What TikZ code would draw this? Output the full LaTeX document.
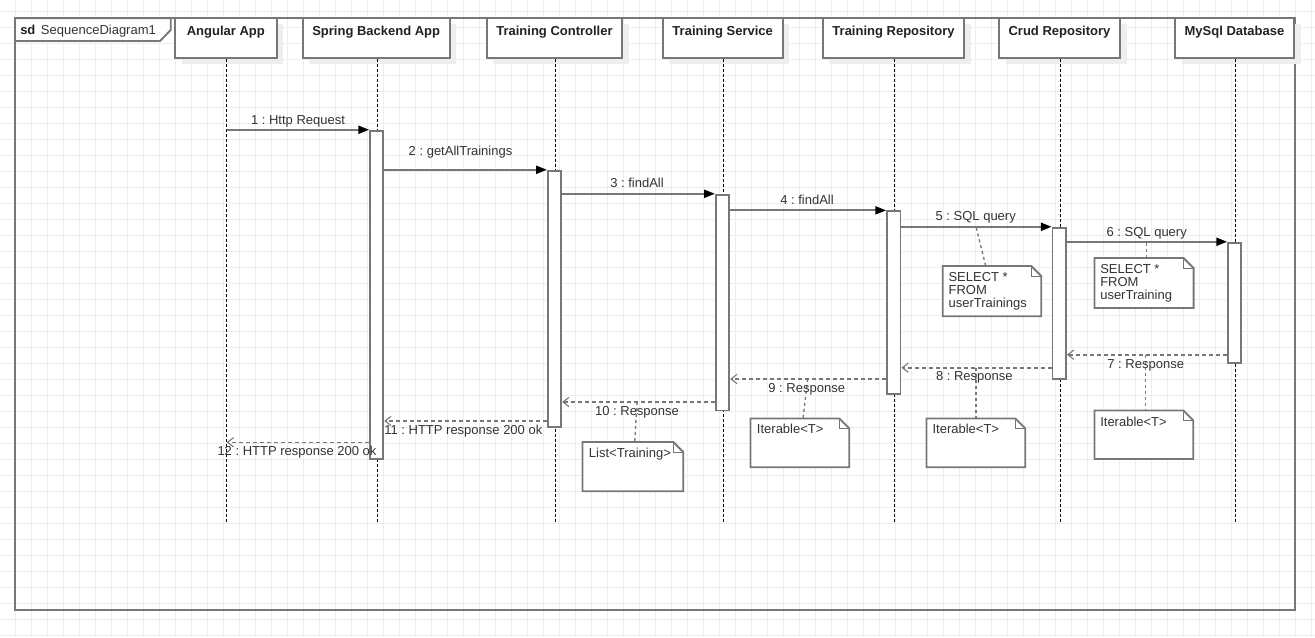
\documentclass[tikz,border=0pt]{standalone}
\usepackage{fontspec}
\setmainfont{Liberation Sans}
\usetikzlibrary{arrows.meta,calc,fit,shadows}
\definecolor{ln}{HTML}{777777}
\definecolor{gridc}{HTML}{EDEDED}
\definecolor{shd}{HTML}{EEEEEE}
\definecolor{txt}{HTML}{333333}
\definecolor{htxt}{HTML}{222222}
\frenchspacing
\newcommand\lbf{\fontsize{9.75}{11.7}\selectfont\frenchspacing}
\newcommand\drawnote[1]{%
  \draw[notel] (#1.north west) -- ($(#1.north east)+(-10,0)$) -- ($(#1.north east)+(0,10)$) -- (#1.south east) -- (#1.south west) -- cycle;
  \draw[foldl] ($(#1.north east)+(-10,0)$) -- ($(#1.north east)+(-10,10)$) -- ($(#1.north east)+(0,10)$);}
\begin{document}
\begin{tikzpicture}[x=0.75pt,y=-0.75pt,
  gridl/.style={draw=gridc,line width=0.75pt},
  frm/.style={draw=ln,line width=1.4pt},
  hdr/.style={draw=ln,line width=1.4pt,fill=white,inner sep=0pt,general shadow={fill=shd,shadow xshift=5pt,shadow yshift=-4.5pt}},
  hlbl/.style={font=\lbf\bfseries,text=htxt,anchor=base,inner sep=0pt},
  life/.style={draw=black,line width=0.75pt,dash pattern=on 2.25pt off 1.5pt},
  bar/.style={draw=ln,line width=1.4pt,fill=white,inner sep=0pt},
  msg/.style={draw=ln,line width=1.4pt,-{Triangle[length=8pt,width=6pt,black]}},
  ret/.style={draw=ln,line width=1.2pt,dash pattern=on 3pt off 2.25pt,-{Straight Barb[length=4.5pt,width=7pt,line width=0.8pt]}},
  lbl/.style={font=\lbf,text=txt,anchor=base,inner sep=0pt},
  ntxt/.style={font=\lbf,text=txt,anchor=base west,inner sep=0pt},
  nbox/.style={inner sep=0pt},
  notel/.style={draw=ln,line width=1.4pt,fill=white},
  foldl/.style={draw=ln,line width=0.8pt},
  conn/.style={draw=ln,line width=1pt,dash pattern=on 2.25pt off 2.25pt}]
\useasboundingbox (0,0) rectangle (1315,637);
\fill[white] (0,0) rectangle (1315,637);
% grid
\foreach \i in {1,...,82} \draw[gridl] ({16*\i-0.5},0) -- ({16*\i-0.5},637);
\foreach \j in {0,...,39} \draw[gridl] (0,{16*\j+11}) -- (1315,{16*\j+11});
% frame
\draw[frm] (15,18.3) rectangle (1295,610);
\draw[frm,fill=white] (15,18.3) -- (170.7,18.3) -- (170.7,30) -- (160,41) -- (15,41) -- cycle;
\node[font=\lbf\bfseries,text=htxt,anchor=base west,inner sep=0pt] (sd) at (20,34.3) {sd};
\node[font=\lbf,text=txt,anchor=base west,inner sep=0pt] (sdname) at (40.7,34.3) {SequenceDiagram1};
% headers
\node[hdr,fit={(175,18.3) (276.7,57.7)}] (hA) {};
\node[hdr,fit={(302.7,18.3) (449.7,57.7)}] (hS) {};
\node[hdr,fit={(486.7,18.3) (622.3,57.7)}] (hC) {};
\node[hdr,fit={(662.7,18.3) (782.7,57.7)}] (hV) {};
\node[hdr,fit={(822.7,18.3) (964.3,57.7)}] (hR) {};
\node[hdr,fit={(999,18.3) (1120,57.7)}] (hU) {};
\node[hdr,fit={(1175,18.3) (1294,57.7)}] (hM) {};
\node[hlbl] (tA) at (hA.north |- 0,35.2) {Angular App};
\node[hlbl] (tS) at (hS.north |- 0,35.2) {Spring Backend App};
\node[hlbl] (tC) at (hC.north |- 0,35.2) {Training Controller};
\node[hlbl] (tV) at (hV.north |- 0,35.2) {Training Service};
\node[hlbl] (tR) at (hR.north |- 0,35.2) {Training Repository};
\node[hlbl] (tU) at (hU.north |- 0,35.2) {Crud Repository};
\node[hlbl] (tM) at (hM.north |- 0,35.2) {MySql Database};
% lifelines
\coordinate (lA) at (226.7,522);
\coordinate (lS) at (377.3,522);
\coordinate (lC) at (555.5,522);
\coordinate (lV) at (723.3,522);
\coordinate (lR) at (894.6,522);
\coordinate (lU) at (1060.5,522);
\coordinate (lM) at (1235.7,522);
\draw[life] (lA |- hA.south) -- (lA);
\draw[life] (lS |- hS.south) -- (lS);
\draw[life] (lC |- hC.south) -- (lC);
\draw[life] (lV |- hV.south) -- (lV);
\draw[life] (lR |- hR.south) -- (lR);
\draw[life] (lU |- hU.south) -- (lU);
\draw[life] (lM |- hM.south) -- (lM);
% activation bars
\node[bar,fit={(370,130.7) (383.3,459)}] (aS) {};
\node[bar,fit={(547.8,170.7) (561.2,426.7)}] (aC) {};
\node[bar,fit={(715.8,194.7) (729.2,410.5)}] (aV) {};
\node[bar,fit={(887,211.3) (900.5,394.3)}] (aR) {};
\node[bar,fit={(1052.5,227.7) (1066,378.7)}] (aU) {};
\node[bar,fit={(1228,242.7) (1241.3,363)}] (aM) {};
% calls
\draw[msg] (lA |- aS.north) -- (aS.north west);
\draw[msg] (aS.east |- aC.north) -- (aC.north west);
\draw[msg] (aC.east |- aV.north) -- (aV.north west);
\draw[msg] (aV.east |- aR.north) -- (aR.north west);
\draw[msg] (aR.east |- aU.north) -- (aU.north west);
\draw[msg] (aU.east |- aM.north) -- (aM.north west);
% returns
\coordinate (r7) at (0,354.7);
\coordinate (r8) at (0,367.7);
\coordinate (r9) at (0,379);
\coordinate (r10) at (0,402);
\coordinate (r11) at (0,421);
\coordinate (r12) at (0,442.3);
\draw[ret] (aM.west |- r7) -- (aU.east |- r7);
\draw[ret] (aU.west |- r8) -- (aR.east |- r8);
\draw[ret] (aR.west |- r9) -- (aV.east |- r9);
\draw[ret] (aV.west |- r10) -- (aC.east |- r10);
\draw[ret] (aC.west |- r11) -- (aS.east |- r11);
\draw[ret] (aS.west |- r12) -- (lA |- r12);
% note connectors
\coordinate (c5) at (976.3,227.7);
\coordinate (c6) at (1146.7,242.7);
\coordinate (c7) at (1145.7,354.7);
\coordinate (c8) at (976,367.7);
\coordinate (c9) at (807.7,379);
\coordinate (c10) at (637,402);
\node[nbox,fit={(943,266.3) (1041,316)}] (n5) {};
\node[nbox,fit={(1094.7,258.3) (1193.3,307.7)}] (n6) {};
\node[nbox,fit={(1094.7,410.7) (1193,458.7)}] (n7) {};
\node[nbox,fit={(926.7,418.7) (1025,467)}] (n8) {};
\node[nbox,fit={(750.7,418.7) (849,467)}] (n9) {};
\node[nbox,fit={(582.7,442.3) (683,491)}] (n10) {};
\draw[conn] (c5) -- ($(n5.north west)+(43,0)$);
\draw[conn] (c6) -- (c6 |- n6.north);
\draw[conn] (c7) -- (c7 |- n7.north);
\draw[conn] (c8) -- (c8 |- n8.north);
\draw[conn] (c9) -- ($(n9.north west)+(52.6,0)$);
\draw[conn] (c10) -- ($(n10.north west)+(52.3,0)$);
% notes
\drawnote{n5}
\drawnote{n6}
\drawnote{n7}
\drawnote{n8}
\drawnote{n9}
\drawnote{n10}
\node[ntxt] (n5a) at (948.3,281) {SELECT *};
\node[ntxt] (n5b) at (948.3,294) {FROM};
\node[ntxt] (n5c) at (948.3,307) {userTrainings};
\node[ntxt] (n6a) at (1100,273.3) {SELECT *};
\node[ntxt] (n6b) at (1100,286.3) {FROM};
\node[ntxt] (n6c) at (1100,299.3) {userTraining};
\node[ntxt] (n7a) at (1100,426) {Iterable<T>};
\node[ntxt] (n8a) at (932.3,433.6) {Iterable<T>};
\node[ntxt] (n9a) at (756.7,433.6) {Iterable<T>};
\node[ntxt] (n10a) at (588.7,457.6) {List<Training>};
% message labels
\node[lbl] (L1) at (298,124) {1 : Http Request};
\node[lbl] (L2) at (460.5,155) {2 : getAllTrainings};
\node[lbl] (L3) at (637,187.5) {3 : findAll};
\node[lbl] (L4) at (807,204.5) {4 : findAll};
\node[lbl] (L5) at (975.7,220.7) {5 : SQL query};
\node[lbl] (L6) at (1146.7,236) {6 : SQL query};
\node[lbl] (L7) at (1145.7,368) {7 : Response};
\node[lbl] (L8) at (974.3,380.7) {8 : Response};
\node[lbl] (L9) at (806.7,392) {9 : Response};
\node[lbl] (L10) at (637,415) {10 : Response};
\node[lbl] (L11) at (463.3,434.5) {11 : HTTP response 200 ok};
\node[lbl] (L12) at (297,455.6) {12 : HTTP response 200 ok};
\end{tikzpicture}
\end{document}
